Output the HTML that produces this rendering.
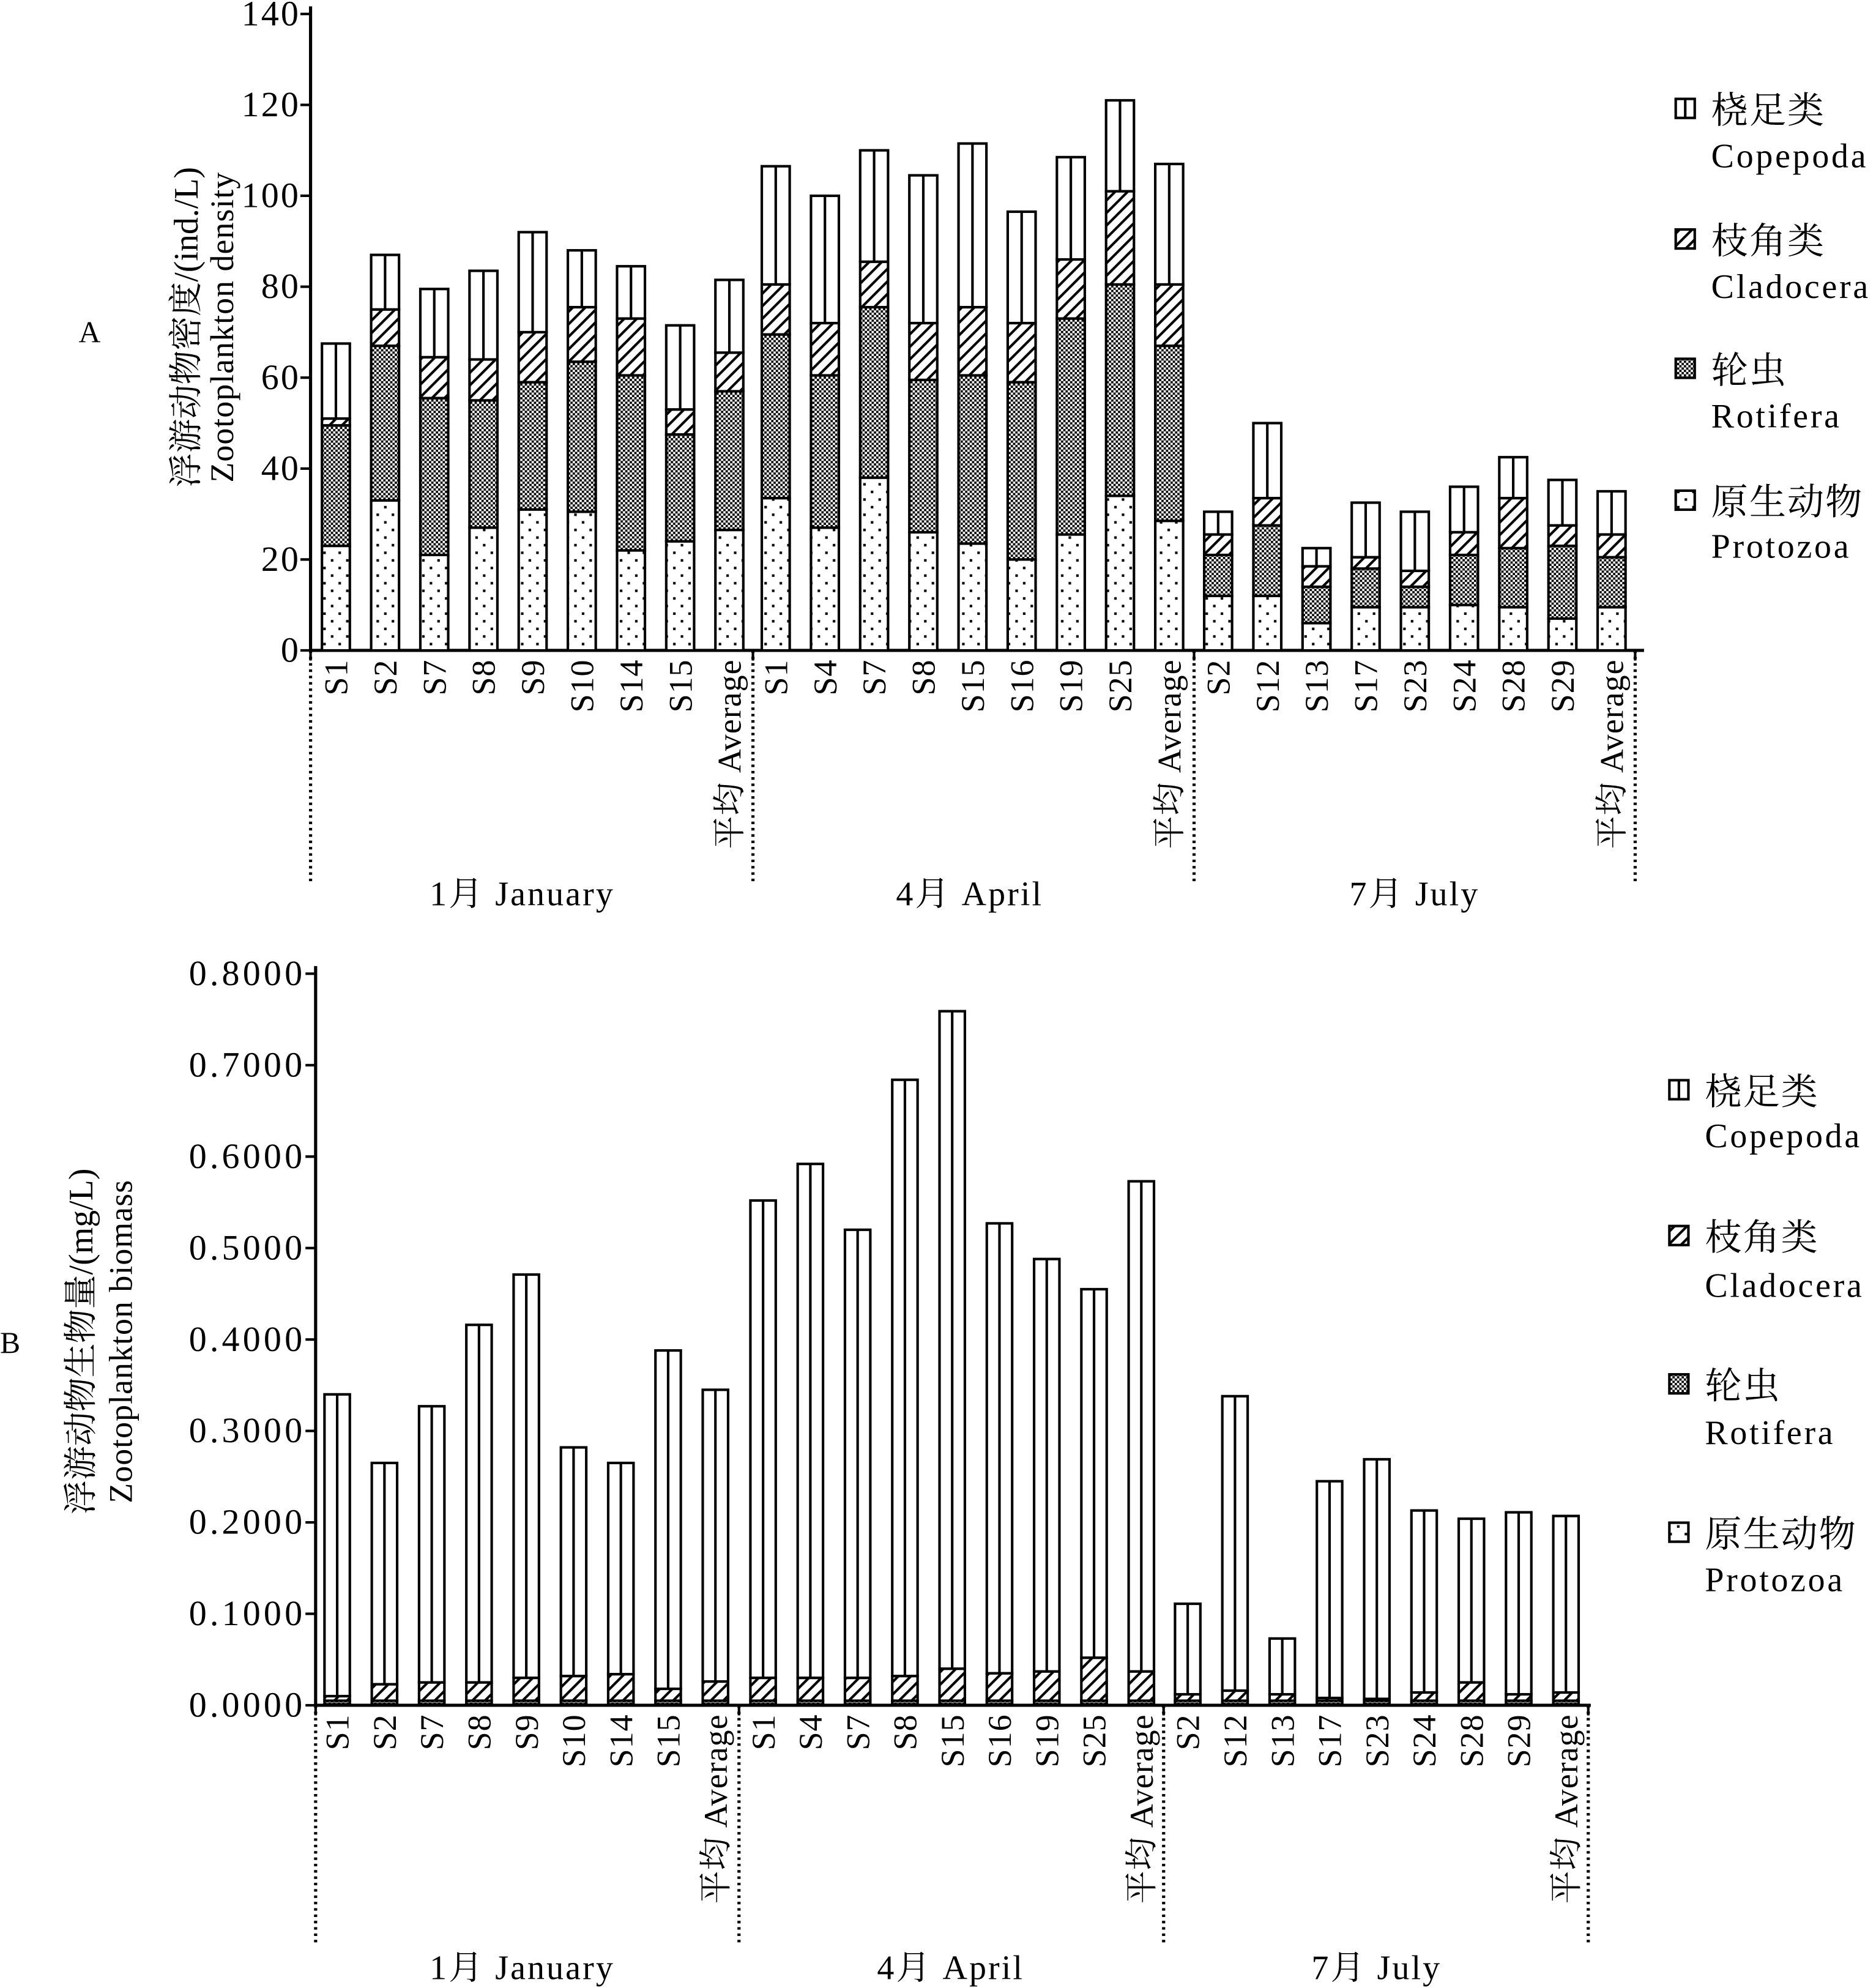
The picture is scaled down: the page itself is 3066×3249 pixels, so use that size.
<!DOCTYPE html>
<html><head><meta charset="utf-8"><style>html,body{margin:0;padding:0;background:#fff}svg{display:block}text{font-family:"Liberation Serif","Noto Serif CJK SC",serif;fill:#000}</style></head>
<body>
<svg id="s" xmlns="http://www.w3.org/2000/svg" width="3066" height="3249" viewBox="0 0 1480 1568" preserveAspectRatio="none">
<defs>
<pattern id="dots" width="12" height="12" patternUnits="userSpaceOnUse"><rect width="12" height="12" fill="#fff"/><rect x="3" y="3" width="2" height="2" fill="#000"/><rect x="9" y="9" width="2" height="2" fill="#000"/></pattern>
<pattern id="chk" width="3.6" height="3.6" patternUnits="userSpaceOnUse"><rect width="3.6" height="3.6" fill="#fff"/><rect width="1.8" height="1.8" fill="#000"/><rect x="1.8" y="1.8" width="1.8" height="1.8" fill="#000"/></pattern>
<pattern id="hat" width="7" height="7" patternUnits="userSpaceOnUse" patternTransform="rotate(45)"><rect width="7" height="7" fill="#fff"/><rect width="2" height="7" fill="#000"/></pattern>
</defs>
<g id="g"></g>
</svg>
<script>
const g=document.getElementById('g');let h='';
function T(x,y,s,fs,anchor,rot,ls){h+=`<text x="${x}" y="${y}" font-size="${fs}" text-anchor="${anchor||'start'}"${ls?` letter-spacing="${ls}"`:''}${rot?` transform="rotate(-90 ${x} ${y})"`:''}>${s}</text>`;}
function L(x1,y1,x2,y2,w,d){h+=`<line x1="${x1}" y1="${y1}" x2="${x2}" y2="${y2}" stroke="#000" stroke-width="${w||2}"${d?` stroke-dasharray="${d}"`:''}/>`;}
function R(x,y,w,hh,f){h+=`<rect x="${x}" y="${y}" width="${w}" height="${hh}" fill="${f}" stroke="#000" stroke-width="2"/>`;}
function bar(cx,w,y0,sc,v){const fills=['url(#dots)','url(#chk)','url(#hat)','#fff'];let prev=0;
 for(let i=0;i<4;i++){const a=y0-v[i]*sc,b=y0-prev*sc;if(b-a>0.3)R(cx-w/2,a,w,b-a,fills[i]);prev=v[i];}
 L(cx,y0-v[3]*sc,cx,y0-v[2]*sc,2);}
const names=[['S1','S2','S7','S8','S9','S10','S14','S15','平均 Average'],['S1','S4','S7','S8','S15','S16','S19','S25','平均 Average'],['S2','S12','S13','S17','S23','S24','S28','S29','平均 Average']];
function legend(x,ys,ye){const lab=[['桡足类','Copepoda','#fff'],['枝角类','Cladocera','url(#hat)'],['轮虫','Rotifera','url(#chk)'],['原生动物','Protozoa','url(#dots)']];
 lab.forEach((l,i)=>{R(x,ys[i]-9,15,15,l[2]);if(i==0)L(x+7.5,ys[i]-9,x+7.5,ys[i]+6,2);T(x+28,ys[i]+10,l[0],29,'start',0,1);T(x+28,ye[i]+9,l[1],27,'start',0,1.8);});}
// Chart A
{const y0=513,sc=(513-11)/140,ax=245;
 L(ax,5,ax,y0,2.5);L(ax,y0,1297,y0,2.5);
 for(let v=0;v<=140;v+=20){const y=y0-v*sc;L(ax-8,y,ax,y,2);T(237,y+9,v,28,'end',0,1.5);}
 const D=[[[23,49.5,51,67.5],[33,67,75,87],[21,55.5,64.5,79.5],[27,55,64,83.5],[31,59,70,92],[30.5,63.5,75.5,88],[22,60.5,73,84.5],[24,47.5,53,71.5],[26.5,57,65.5,81.5]],
 [[33.5,69.5,80.5,106.5],[27,60.5,72,100],[38,75.5,85.5,110],[26,59.5,72,104.5],[23.5,60.5,75.5,111.5],[20,59,72,96.5],[25.5,73,86,108.5],[34,80.5,101,121],[28.5,67,80.5,107]],
 [[12,21,25.5,30.5],[12,27.5,33.5,50],[6,14,18.5,22.5],[9.5,18,20.5,32.5],[9.5,14,17.5,30.5],[10,21,26,36],[9.5,22.5,33.5,42.5],[7,23,27.5,37.5],[9.5,20.5,25.5,35]]];
 const starts=[265,612,961],sep=[245,594,942,1290],gl=[['1月 January',412],['4月 April',765],['7月 July',1116]];
 D.forEach((grp,gi)=>grp.forEach((v,i)=>{const cx=starts[gi]+i*38.8;bar(cx,22,y0,sc,v);T(cx+9,520,names[gi][i],26,'end',1,0.5);}));
 sep.forEach(x=>{L(x,y0,x,697,2.5,'2,3');L(x,y0,x,y0+8,2);});
 gl.forEach(l=>T(l[1],714,l[0],27,'middle',0,1.5));
 T(156,258,'浮游动物密度/(ind./L)',27,'middle',1);T(184,258,'Zootoplankton density',26,'middle',1,0.5);
 T(62,270,'A',24);
 legend(1322,[87,190,292,396],[123,226,328,431]);}
// Chart B
{const y0=1345,sc=(1345-768)/0.8,ax=249;
 L(ax,762,ax,y0,2.5);L(ax,y0,1255,y0,2.5);
 for(let k=0;k<=8;k++){const y=y0-k*0.1*sc;L(ax-8,y,ax,y,2);T(241,y+9,(k/10).toFixed(4),28,'end',0,2.5);}
 const tot=[[.34,.265,.327,.416,.471,.282,.265,.388,.345],[.552,.592,.52,.684,.759,.527,.488,.455,.573],[.111,.338,.073,.245,.269,.213,.204,.211,.207]];
 const cl=[[.01,.023,.025,.025,.03,.032,.034,.018,.026],[.03,.03,.03,.032,.04,.035,.037,.052,.037],[.012,.016,.012,.008,.007,.014,.025,.012,.014]];
 const starts=[266,602,937],sep=[249,583,918,1253],gl=[['1月 January',412],['4月 April',750],['7月 July',1086]];
 tot.forEach((grp,gi)=>grp.forEach((t,i)=>{const cx=starts[gi]+i*37.3;bar(cx,20,y0,sc,[0.001,0.005,cl[gi][i],t]);T(cx+9,1352,names[gi][i],26,'end',1,0.5);}));
 sep.forEach(x=>{L(x,y0,x,1532,2.5,'2,3');L(x,y0,x,y0+8,2);});
 gl.forEach(l=>T(l[1],1561,l[0],27,'middle',0,1.5));
 T(73,1058,'浮游动物生物量/(mg/L)',27,'middle',1);T(104,1058,'Zootoplankton biomass',26,'middle',1,0.5);
 T(0,1067,'B',24);
 legend(1317,[861,976,1093,1210],[896,1014,1130,1246]);}
g.innerHTML=h;
</script>
</body></html>
